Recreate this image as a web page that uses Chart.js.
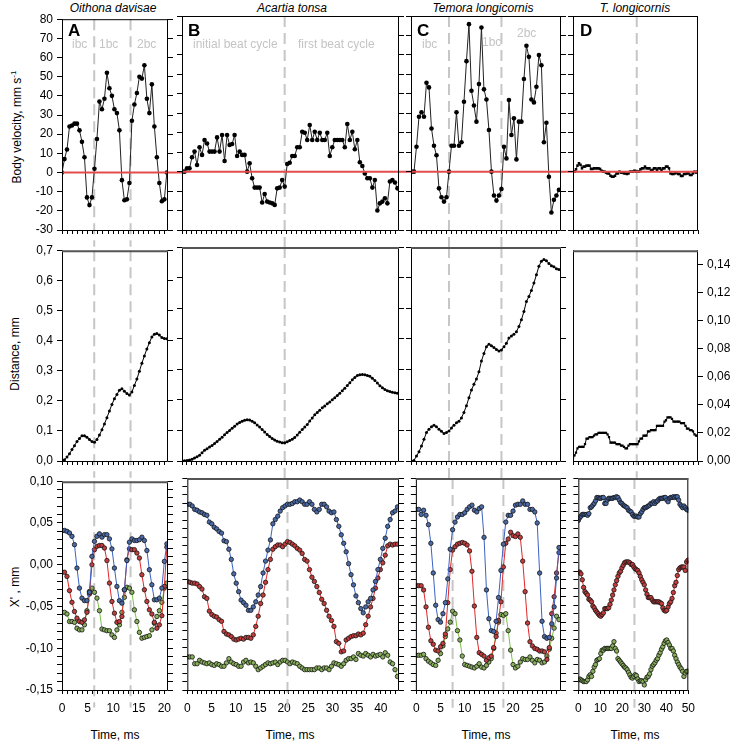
<!DOCTYPE html>
<html>
<head>
<meta charset="utf-8">
<script src="https://cdn.jsdelivr.net/npm/chart.js@4.4.0/dist/chart.umd.min.js"></script>
<style>
  body { margin: 0; background: #fff; width: 735px; height: 745px; position: relative; overflow: hidden;
         font-family: 'Liberation Sans', Arial, sans-serif; color: #000; }
  canvas { position: absolute; }
  .t { position: absolute; white-space: nowrap; font-size: 12px; line-height: 14px; }
  .sp { font-style: italic; transform: translateX(-50%); }
  .let { font-weight: bold; font-size: 17px; line-height: 17px; }
  .gr { color: #c4c4c4; }
  .yt { transform: translate(-50%, -50%) rotate(-90deg); }
  .xt { transform: translateX(-50%); }
  sup { font-size: 8px; line-height: 0; }
</style>
</head>
<body>
<div class="t sp" style="left:113px;top:1px">Oithona davisae</div>
<div class="t sp" style="left:292px;top:1px">Acartia tonsa</div>
<div class="t sp" style="left:483px;top:1px">Temora longicornis</div>
<div class="t sp" style="left:635px;top:1px">T. longicornis</div>

<div class="t yt" style="left:17px;top:127px">Body velocity, mm s<sup>-1</sup></div>
<div class="t yt" style="left:15px;top:354px">Distance, mm</div>
<div class="t yt" style="left:15px;top:587px">X' , mm</div>

<div class="t xt" style="left:115px;top:728px">Time, ms</div>
<div class="t xt" style="left:290px;top:728px">Time, ms</div>
<div class="t xt" style="left:486px;top:728px">Time, ms</div>
<div class="t xt" style="left:635px;top:728px">Time, ms</div>

<script>
const FONT = "'Liberation Sans', Arial, sans-serif";
Chart.defaults.font.family = FONT;
Chart.defaults.font.size = 12;
Chart.defaults.color = '#000';

// video frame step in ms for each copepod
const frameA = 0.488, frameB = 0.505, frameC = 0.5, frameD = 0.6;

// beat cycle boundaries, ms
const cyclesA = [6.3, 13.4];
const cyclesB = [20.7];
const cyclesC = [7.5, 18.0];
const cyclesD = [25.5];

// A - Oithona davisae
const velA = [0,7,12,24,24.5,25.5,25.5,22,16,8,-13,-17,-13,2,17.5,37,33,38.5,52,44,40,33,31,22,-4,-14.5,-14,-5.5,27,35.5,41.5,50,49,56,38.5,31,46,24,8,-5.5,-15,-14,0];
const distA = [0,0.004,0.013,0.024,0.038,0.051,0.065,0.075,0.084,0.084,0.079,0.071,0.065,0.062,0.071,0.086,0.104,0.123,0.144,0.166,0.188,0.207,0.221,0.235,0.240,0.232,0.224,0.219,0.229,0.251,0.272,0.298,0.325,0.349,0.372,0.393,0.412,0.421,0.423,0.418,0.410,0.407,0.406];
const blueA = [0.041,0.041,0.040,0.038,0.034,0.024,-0.004,-0.028,-0.040,-0.043,-0.043,-0.033,0.010,0.028,0.034,0.037,0.033,0.036,0.036,0.031,0.019,-0.004,-0.026,-0.043,-0.046,-0.030,0.005,0.027,0.031,0.029,0.029,0.030,0.033,0.029,0.017,-0.006,-0.024,-0.042,-0.042,-0.040,-0.028,0.004,0.025];
const redA = [-0.009,-0.009,-0.014,-0.031,-0.045,-0.056,-0.064,-0.068,-0.069,-0.066,-0.057,-0.035,0.000,0.018,0.022,0.023,0.023,0.020,0.005,-0.022,-0.044,-0.058,-0.069,-0.068,-0.062,-0.030,0.006,0.019,0.018,0.018,0.014,0.008,-0.012,-0.030,-0.044,-0.054,-0.059,-0.069,-0.076,-0.072,-0.061,-0.026,0.021];
const greenA = [-0.057,-0.057,-0.059,-0.068,-0.068,-0.069,-0.076,-0.078,-0.078,-0.072,-0.055,-0.032,-0.028,-0.033,-0.040,-0.055,-0.077,-0.078,-0.079,-0.079,-0.084,-0.087,-0.078,-0.072,-0.057,-0.039,-0.027,-0.028,-0.033,-0.054,-0.068,-0.081,-0.088,-0.087,-0.086,-0.085,-0.078,-0.070,-0.062,-0.055,-0.045,-0.028,-0.022];

// B - Acartia tonsa
const velB = [0,0,1.7,1.7,7.4,10.3,3.4,12.5,8.6,16.3,14.5,10.3,10.3,10.3,17.6,10.3,18.8,5.5,18.8,13.7,14.2,18.8,8.0,10.3,8.6,8.6,0,4.3,-3.4,-8.2,-8.2,-8.2,-15.9,-11.5,-15.4,-15.9,-16.3,-17.1,-8.6,-8.2,-4.3,-7.7,3.9,4.6,8.0,8.0,12.5,12.5,20.5,20.0,16.3,24.0,16.3,20.5,16.3,20.0,16.3,16.3,20.0,8.0,12.5,16.3,16.3,16.3,16.3,12.5,24.5,16.3,20.5,11.5,16.3,4.8,2.9,-0.9,-3.4,-3.4,-8.2,-4.3,-20.0,-16.3,-15.4,-13.7,-16.3,-5.1,-4.3,-5.6,-8.6];
const distB = [0.000,0.001,0.002,0.003,0.006,0.010,0.014,0.019,0.027,0.035,0.040,0.046,0.051,0.057,0.064,0.071,0.078,0.086,0.093,0.100,0.107,0.114,0.121,0.126,0.130,0.133,0.135,0.134,0.130,0.125,0.118,0.111,0.103,0.095,0.087,0.080,0.074,0.069,0.065,0.062,0.060,0.060,0.063,0.067,0.071,0.077,0.085,0.094,0.103,0.111,0.119,0.131,0.141,0.151,0.159,0.166,0.174,0.180,0.187,0.193,0.200,0.207,0.214,0.222,0.230,0.238,0.247,0.256,0.266,0.273,0.280,0.282,0.283,0.282,0.280,0.277,0.271,0.263,0.255,0.246,0.240,0.234,0.230,0.227,0.225,0.223,0.222];
const blueB = [0.069,0.069,0.067,0.063,0.062,0.060,0.059,0.057,0.056,0.048,0.046,0.042,0.040,0.037,0.035,0.026,0.025,0.016,0.004,-0.013,-0.024,-0.034,-0.044,-0.047,-0.050,-0.056,-0.056,-0.052,-0.046,-0.038,-0.028,-0.012,0.002,0.015,0.027,0.046,0.051,0.055,0.061,0.065,0.067,0.069,0.069,0.070,0.072,0.072,0.074,0.072,0.069,0.069,0.072,0.069,0.063,0.060,0.063,0.069,0.069,0.066,0.061,0.059,0.060,0.051,0.043,0.033,0.023,0.013,-0.001,-0.014,-0.026,-0.039,-0.047,-0.054,-0.059,-0.052,-0.046,-0.042,-0.032,-0.022,-0.008,0.004,0.017,0.029,0.043,0.051,0.059,0.061,0.066];
const redB = [-0.022,-0.023,-0.024,-0.024,-0.025,-0.028,-0.031,-0.040,-0.042,-0.057,-0.061,-0.063,-0.064,-0.067,-0.069,-0.081,-0.084,-0.085,-0.087,-0.090,-0.091,-0.090,-0.089,-0.090,-0.088,-0.088,-0.089,-0.085,-0.075,-0.063,-0.048,-0.038,-0.023,-0.008,0.004,0.016,0.019,0.021,0.021,0.019,0.022,0.025,0.024,0.022,0.020,0.017,0.015,0.011,0.004,0.002,-0.008,-0.017,-0.022,-0.028,-0.035,-0.043,-0.048,-0.056,-0.063,-0.068,-0.075,-0.093,-0.095,-0.105,-0.104,-0.091,-0.089,-0.087,-0.086,-0.086,-0.084,-0.085,-0.083,-0.073,-0.063,-0.052,-0.042,-0.030,-0.018,-0.008,0.000,0.009,0.020,0.022,0.021,0.022,0.022];
const greenB = [-0.111,-0.111,-0.111,-0.119,-0.119,-0.115,-0.117,-0.118,-0.119,-0.118,-0.120,-0.121,-0.119,-0.120,-0.122,-0.122,-0.118,-0.113,-0.117,-0.119,-0.120,-0.122,-0.122,-0.117,-0.115,-0.118,-0.117,-0.118,-0.122,-0.126,-0.124,-0.122,-0.120,-0.118,-0.119,-0.118,-0.117,-0.120,-0.117,-0.115,-0.115,-0.117,-0.119,-0.117,-0.118,-0.119,-0.122,-0.124,-0.126,-0.126,-0.126,-0.126,-0.126,-0.124,-0.124,-0.126,-0.124,-0.124,-0.126,-0.122,-0.118,-0.119,-0.120,-0.122,-0.119,-0.115,-0.113,-0.113,-0.111,-0.114,-0.107,-0.109,-0.110,-0.107,-0.109,-0.111,-0.108,-0.110,-0.109,-0.108,-0.111,-0.106,-0.109,-0.117,-0.119,-0.126,-0.134];

// C - Temora longicornis
const velC = [0,0,12.8,28.2,30.5,28.2,45.7,43.3,22.2,13.3,8.4,-8.6,-13.2,-15.4,-13.2,0,13.3,13.3,30.5,13.3,15.1,35.9,56.8,75.8,41.6,34.0,25.7,45.0,74.1,42.3,37.1,21.4,0,-12.3,-14.9,-12.3,-8.9,12.8,6.8,36.8,18.8,27.4,6.3,25.7,25.7,47.6,64.7,59.0,37.1,35.6,43.6,59.9,54.7,15.1,25.1,-2.6,-21.0,-14.5,-12.3,-9.4];
const distC = [0,0.002,0.016,0.030,0.049,0.071,0.093,0.104,0.112,0.117,0.112,0.104,0.097,0.090,0.093,0.098,0.108,0.117,0.125,0.130,0.141,0.159,0.181,0.207,0.232,0.251,0.268,0.292,0.327,0.352,0.374,0.382,0.377,0.371,0.365,0.360,0.363,0.374,0.385,0.402,0.409,0.415,0.423,0.440,0.462,0.489,0.522,0.538,0.558,0.582,0.609,0.637,0.653,0.659,0.655,0.646,0.639,0.635,0.629,0.626];
const blueC = [0.063,0.063,0.057,0.062,0.056,0.045,0.023,-0.012,-0.050,-0.067,-0.070,-0.060,-0.047,-0.019,0.016,0.039,0.048,0.054,0.057,0.057,0.059,0.063,0.066,0.068,0.062,0.060,0.064,0.066,0.030,-0.032,-0.066,-0.080,-0.081,-0.069,-0.041,-0.009,0.022,0.048,0.056,0.056,0.061,0.068,0.069,0.069,0.073,0.069,0.069,0.063,0.063,0.060,0.047,-0.012,-0.069,-0.087,-0.089,-0.088,-0.072,-0.052,-0.018,0.018];
const redC = [-0.027,-0.027,-0.027,-0.032,-0.052,-0.076,-0.092,-0.096,-0.103,-0.104,-0.099,-0.095,-0.084,-0.047,-0.008,0.015,0.019,0.022,0.023,0.024,0.023,0.021,0.014,-0.010,-0.051,-0.088,-0.106,-0.108,-0.110,-0.115,-0.112,-0.110,-0.100,-0.087,-0.068,-0.046,-0.005,0.023,0.028,0.036,0.032,0.031,0.034,0.030,0.002,-0.034,-0.071,-0.093,-0.098,-0.101,-0.102,-0.104,-0.104,-0.105,-0.114,-0.100,-0.060,-0.040,-0.012,0.012];
const greenC = [-0.109,-0.109,-0.109,-0.108,-0.113,-0.116,-0.118,-0.120,-0.121,-0.115,-0.107,-0.098,-0.087,-0.078,-0.070,-0.057,-0.060,-0.080,-0.091,-0.110,-0.120,-0.121,-0.122,-0.123,-0.124,-0.122,-0.119,-0.123,-0.124,-0.121,-0.117,-0.113,-0.101,-0.083,-0.070,-0.061,-0.062,-0.060,-0.080,-0.103,-0.120,-0.124,-0.122,-0.117,-0.113,-0.114,-0.114,-0.111,-0.115,-0.118,-0.114,-0.115,-0.118,-0.117,-0.110,-0.102,-0.089,-0.077,-0.063,-0.067];

// D - T. longicornis
const velD = [0,0,1.2,3.1,4.3,3.5,1.7,2.6,2.6,3.1,3.1,3.1,1.4,1.4,1.7,1.7,1.7,1.7,1.4,0.5,0,0,-0.5,-0.9,-0.9,-2.1,-2.6,-2.6,-2.1,-0.9,-0.9,0,-0.5,-0.5,-0.9,-0.9,-1.2,-0.9,0,0,0,0.5,0,0,0,1.2,1.7,1.7,2.6,1.7,1.7,1.7,0.5,0.9,1.7,1.7,0.9,1.7,1.7,0.9,1.7,1.7,2.6,2.6,1.7,-0.9,-1.2,-1.2,-0.9,-0.5,-1.2,-1.2,-2.2,-2.2,-1.2,-1.2,-0.9,-0.9,-1.7,-1.7,-0.9,0,-0.5,0];
const distD = [0.002,0.004,0.006,0.009,0.010,0.010,0.010,0.010,0.012,0.016,0.016,0.017,0.017,0.017,0.018,0.019,0.019,0.020,0.020,0.020,0.020,0.020,0.020,0.019,0.017,0.013,0.013,0.013,0.013,0.012,0.012,0.012,0.011,0.011,0.010,0.009,0.009,0.011,0.012,0.012,0.012,0.012,0.012,0.012,0.014,0.016,0.016,0.018,0.018,0.018,0.021,0.021,0.022,0.022,0.022,0.022,0.025,0.025,0.025,0.025,0.025,0.028,0.029,0.031,0.031,0.031,0.030,0.028,0.028,0.028,0.028,0.028,0.027,0.027,0.027,0.025,0.023,0.023,0.022,0.022,0.021,0.019,0.018,0.018];
const blueD = [0.050,0.053,0.055,0.057,0.057,0.057,0.057,0.056,0.058,0.065,0.066,0.068,0.070,0.073,0.077,0.077,0.076,0.076,0.077,0.077,0.070,0.070,0.074,0.076,0.076,0.076,0.076,0.077,0.077,0.078,0.077,0.074,0.071,0.070,0.068,0.067,0.066,0.065,0.062,0.061,0.060,0.057,0.055,0.055,0.055,0.054,0.054,0.058,0.060,0.063,0.065,0.065,0.066,0.067,0.068,0.070,0.070,0.072,0.070,0.072,0.073,0.075,0.076,0.076,0.076,0.077,0.077,0.074,0.072,0.076,0.077,0.077,0.078,0.077,0.078,0.078,0.074,0.069,0.067,0.065,0.067,0.065,0.063,0.062];
const redD = [-0.011,-0.011,-0.013,-0.020,-0.029,-0.034,-0.036,-0.038,-0.043,-0.044,-0.046,-0.051,-0.053,-0.056,-0.058,-0.060,-0.062,-0.063,-0.061,-0.059,-0.054,-0.054,-0.054,-0.053,-0.049,-0.044,-0.038,-0.032,-0.026,-0.021,-0.016,-0.012,-0.010,-0.006,-0.003,0.000,0.001,0.001,0.001,0.000,-0.002,-0.002,-0.005,-0.007,-0.008,-0.009,-0.012,-0.016,-0.020,-0.023,-0.026,-0.032,-0.037,-0.041,-0.041,-0.041,-0.044,-0.046,-0.046,-0.046,-0.046,-0.046,-0.047,-0.048,-0.053,-0.056,-0.057,-0.056,-0.052,-0.048,-0.046,-0.042,-0.035,-0.027,-0.023,-0.015,-0.008,-0.006,-0.005,-0.005,-0.005,-0.009,0.001,0.003];
const greenD = [-0.138,-0.137,-0.138,-0.139,-0.140,-0.140,-0.140,-0.138,-0.134,-0.132,-0.134,-0.128,-0.123,-0.120,-0.115,-0.114,-0.113,-0.107,-0.103,-0.103,-0.101,-0.101,-0.101,-0.101,-0.101,-0.101,-0.098,-0.093,-0.101,-0.104,-0.113,-0.115,-0.117,-0.119,-0.121,-0.123,-0.124,-0.126,-0.129,-0.132,-0.135,-0.136,-0.134,-0.132,-0.133,-0.137,-0.140,-0.139,-0.139,-0.140,-0.144,-0.138,-0.135,-0.134,-0.131,-0.126,-0.122,-0.120,-0.118,-0.115,-0.113,-0.109,-0.106,-0.102,-0.099,-0.095,-0.092,-0.091,-0.094,-0.097,-0.101,-0.101,-0.104,-0.109,-0.113,-0.117,-0.120,-0.123,-0.125,-0.128,-0.134,-0.130,-0.128,-0.128];

// ---- layout (pixels) ----
const colBox = {
  A: { left: 62,  right: 168, min: 0,    max: 20.72, step: 1, every: 5, gap: 14 },
  B: { left: 182, right: 399, min: 0,    max: 43.75, step: 1, every: 5, gap: 12 },
  C: { left: 411, right: 561, min: -0.1, max: 29.92, step: 1, every: 5, gap: 12 },
  D: { left: 573, right: 698, min: 0,    max: 50,    step: 2, every: 10, gap: 4 }
};
const rowBox = {
  vel:  { top: 16,  bottom: 230, min: -30,   max: 80,   step: 10,   below: -38.7 },
  dist: { top: 247, bottom: 461, min: 0,     max: 0.7,  step: 0.1,  below: -0.056 },
  xp:   { top: 478, bottom: 690, min: -0.15, max: 0.10, step: 0.01, below: -0.171 }
};
const comma = (v, d) => (Math.abs(v) < 1e-9 ? 0 : v).toFixed(d).replace('.', ',');
const fmtRow = {
  vel: v => String(Math.round(v)),
  dist: v => comma(v, 1),
  xp: v => (Math.round(v * 100) % 5 === 0 ? comma(v, 2) : '')
};

const framePlugin = {
  id: 'frame',
  afterDatasetsDraw(chart, args, o) {
    const { left, right, top, bottom } = chart.chartArea;
    const ctx = chart.ctx;
    ctx.save();
    ctx.strokeStyle = '#000';
    ctx.lineWidth = 1;
    ctx.beginPath();
    ctx.moveTo(left + 0.5, top);
    ctx.lineTo(left + 0.5, bottom + 0.5);
    ctx.lineTo(right - 0.5, bottom + 0.5);
    ctx.lineTo(right - 0.5, top);
    ctx.stroke();
    ctx.strokeStyle = o.topColor;
    ctx.lineWidth = o.topWidth;
    ctx.beginPath();
    ctx.moveTo(left, top + o.topWidth / 2);
    ctx.lineTo(right, top + o.topWidth / 2);
    ctx.stroke();
    ctx.restore();
  }
};

const series = (vals, dt, style) =>
  Object.assign({ data: vals.map((v, i) => ({ x: i * dt, y: v })), tension: 0, fill: false }, style);

const dashed = (times, r, yTop) => times.map(t => ({
  data: [{ x: t, y: yTop }, { x: t, y: r }],
  borderColor: '#c6c6c6', borderWidth: 2, borderDash: [11, 6], pointRadius: 0, clip: false
}));

function yAxis(pos, row, width, showTicks, showLabels, over) {
  const r = rowBox[row];
  return Object.assign({
    type: 'linear', position: pos, min: r.min, max: r.max,
    border: { display: false },
    grid: { drawOnChartArea: false, drawTicks: showTicks, tickLength: 5, tickColor: '#000' },
    ticks: { display: showLabels, stepSize: r.step, autoSkip: false, includeBounds: false,
             padding: 4, color: '#000', font: { size: 12 }, callback: fmtRow[row] },
    afterFit: s => { s.width = width; }
  }, over || {});
}

function panel(col, row, datasets) {
  const c = colBox[col], r = rowBox[row];
  const isD = col === 'D';
  const rightLabels = isD && row === 'dist';
  const L = col === 'A' ? 45 : (rightLabels ? 2 : 5);
  const R = rightLabels ? 40 : c.gap;
  const T = 8, B = row === 'xp' ? 30 : 17;
  const cv = document.createElement('canvas');
  cv.width = c.right - c.left + L + R;
  cv.height = r.bottom - r.top + T + B;
  cv.style.left = (c.left - L) + 'px';
  cv.style.top = (r.top - T) + 'px';
  document.body.appendChild(cv);

  const scales = {
    x: {
      type: 'linear', position: 'bottom', min: c.min, max: c.max,
      border: { display: false },
      grid: { drawOnChartArea: false, tickLength: 4, tickColor: '#000' },
      ticks: { display: row === 'xp', stepSize: c.step, autoSkip: false, includeBounds: false,
               maxRotation: 0, padding: 7, color: '#000', font: { size: 12 },
               callback: v => (Math.round(v) % c.every === 0 ? String(Math.round(v)) : '') },
      afterFit: s => { s.height = B; }
    }
  };
  if (rightLabels) {
    scales.y = yAxis('right', row, R, true, true, {
      min: 0, max: 0.15,
      ticks: { display: true, stepSize: 0.02, autoSkip: false, includeBounds: false, padding: 4,
               color: '#000', font: { size: 12 }, callback: v => comma(v, 2) }
    });
  } else {
    scales.y = yAxis('left', row, L, true, col === 'A');
    if (!isD) scales.y2 = yAxis('right', row, R, true, false);
  }

  new Chart(cv, {
    type: 'line',
    data: { datasets },
    options: {
      responsive: false, animation: false, events: [],
      layout: { autoPadding: false, padding: { top: T, left: rightLabels ? L : 0, right: (isD && !rightLabels) ? R : 0, bottom: 0 } },
      plugins: {
        legend: { display: false }, tooltip: { enabled: false },
        frame: { topColor: row === 'vel' ? '#000' : '#555', topWidth: row === 'vel' ? 1 : 2 }
      },
      scales
    },
    plugins: [framePlugin]
  });
}

// ---- styles ----
const velStyle = { borderColor: '#222', borderWidth: 1, pointRadius: 2.3, pointBackgroundColor: '#000', pointBorderWidth: 0 };
const velStyleD = { borderColor: '#222', borderWidth: 1, pointRadius: 1.8, pointStyle: 'rect', pointBackgroundColor: '#000', pointBorderWidth: 0 };
const distStyle = { borderColor: '#000', borderWidth: 1, pointRadius: 1.5, pointBackgroundColor: '#000', pointBorderWidth: 0 };
const distStyleD = { borderColor: '#000', borderWidth: 1, pointRadius: 1.6, pointStyle: 'rect', pointBackgroundColor: '#000', pointBorderWidth: 0 };
const dot = (line, fill) => ({ borderColor: line, borderWidth: 1, pointRadius: 2.2, pointBackgroundColor: fill, pointBorderColor: '#151515', pointBorderWidth: 0.8 });
const blueStyle = dot('#3b62c4', '#4a6aa8');
const redStyle = dot('#e02828', '#c43c3c');
const greenStyle = dot('#7fc24a', '#88b05c');

const zeroLine = (from, to) => ({
  data: [{ x: from, y: 0 }, { x: to, y: 0 }],
  borderColor: '#e44c4c', borderWidth: 2, pointRadius: 0, clip: false
});

const columns = [
  { col: 'A', dt: frameA, cyc: cyclesA, vel: velA, dist: distA, b: blueA, r: redA, g: greenA, zero: [0, 23.7] },
  { col: 'B', dt: frameB, cyc: cyclesB, vel: velB, dist: distB, b: blueB, r: redB, g: greenB, zero: [0, 46.2] },
  { col: 'C', dt: frameC, cyc: cyclesC, vel: velC, dist: distC, b: blueC, r: redC, g: greenC, zero: [-0.1, 32.3] },
  { col: 'D', dt: frameD, cyc: cyclesD, vel: velD, dist: distD, b: blueD, r: redD, g: greenD, zero: [0, 50] }
];

columns.forEach(k => {
  const isD = k.col === 'D';
  panel(k.col, 'vel', [
    zeroLine(k.zero[0], k.zero[1]),
    series(k.vel, k.dt, isD ? velStyleD : velStyle),
    ...dashed(k.cyc, rowBox.vel.below, 80)
  ]);
  panel(k.col, 'dist', [
    series(k.dist, k.dt, isD ? distStyleD : distStyle),
    ...dashed(k.cyc, isD ? -0.012 : rowBox.dist.below, isD ? 0.15 : 0.7)
  ]);
  panel(k.col, 'xp', [
    series(k.b, k.dt, blueStyle),
    series(k.r, k.dt, redStyle),
    series(k.g, k.dt, greenStyle),
    ...dashed(k.cyc, rowBox.xp.below, 0.10)
  ]);
});
</script>

<div class="t let" style="left:68px;top:22px">A</div>
<div class="t let" style="left:188px;top:22px">B</div>
<div class="t let" style="left:417px;top:22px">C</div>
<div class="t let" style="left:580px;top:22px">D</div>

<div class="t gr" style="left:72px;top:37px">ibc</div>
<div class="t gr" style="left:99px;top:37px">1bc</div>
<div class="t gr" style="left:137px;top:37px">2bc</div>
<div class="t gr" style="left:193px;top:37px">initial beat cycle</div>
<div class="t gr" style="left:298px;top:37px">first beat cycle</div>
<div class="t gr" style="left:422px;top:37px">ibc</div>
<div class="t gr" style="left:482px;top:35px">1bc</div>
<div class="t gr" style="left:517px;top:26px">2bc</div>
</body>
</html>
